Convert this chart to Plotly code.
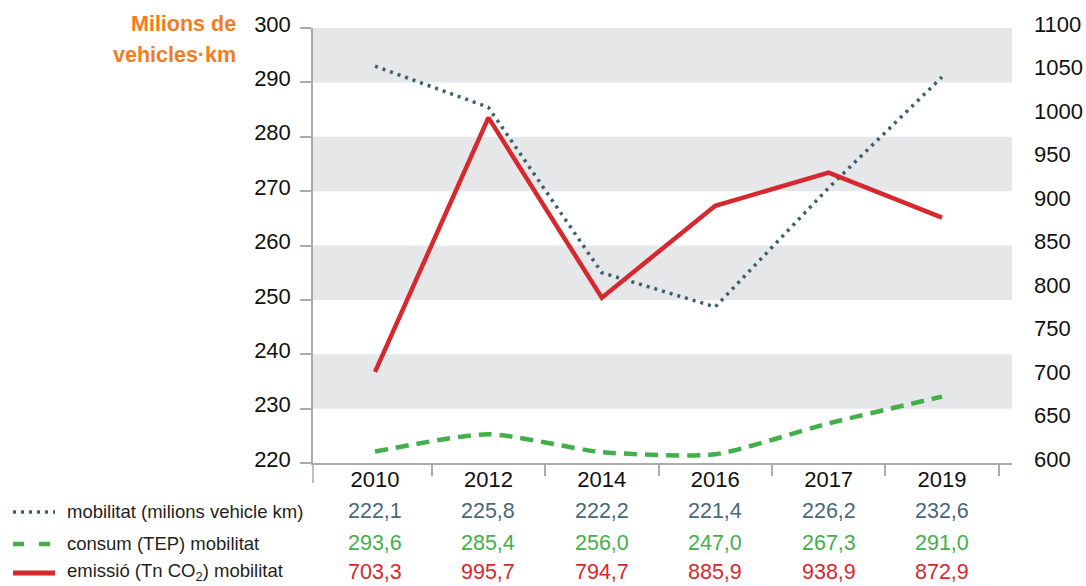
import plotly.graph_objects as go

# ---- data ----
years = ["2010", "2012", "2014", "2016", "2017", "2019"]
# values as drawn in the chart
mobilitat_line = [293.0, 285.4, 255.0, 248.7, 270.6, 291.0]
consum_line = [222.1, 225.3, 222.0, 221.6, 227.3, 232.2]
emissio_line = [704.7, 997.0, 790.0, 895.7, 933.7, 882.0]
# table texts
mobilitat_tab = ["222,1", "225,8", "222,2", "221,4", "226,2", "232,6"]
consum_tab = ["293,6", "285,4", "256,0", "247,0", "267,3", "291,0"]
emissio_tab = ["703,3", "995,7", "794,7", "885,9", "938,9", "872,9"]
row_labels = ["mobilitat (milions vehicle km)", "consum (TEP) mobilitat",
              "emissió (Tn CO<sub>2</sub>) mobilitat"]
title_lines = ["Milions de", "vehicles·km"]
left_ticks = [220, 230, 240, 250, 260, 270, 280, 290, 300]
right_ticks = [600, 650, 700, 750, 800, 850, 900, 950, 1000, 1050, 1100]

SLATE = "#3e5f6e"
SLATE_TXT = "#4a6876"
GREEN = "#43af4a"
RED = "#d6282f"
BAND = "#e6e7e9"
AXIS = "#a9abae"
ORANGE = "#f47c20"
FONT = "Liberation Sans"

W, H = 1086, 586
L, R, T, B = 313, 74, 28, 123
pw, ph = W - L - R, H - T - B


def px_x(p):
    return (p - L) / pw


def px_y(p):
    return (H - B - p) / ph


xs = list(range(len(years)))

fig = go.Figure()
fig.add_trace(go.Scatter(x=xs, y=mobilitat_line, mode="lines",
                         line=dict(color=SLATE, width=3.5, dash="3px,5px"),
                         showlegend=False, hoverinfo="skip"))
fig.add_trace(go.Scatter(x=xs, y=consum_line, mode="lines",
                         line=dict(color=GREEN, width=4.5, dash="13px,8px",
                                   shape="spline", smoothing=0.6),
                         showlegend=False, hoverinfo="skip"))
fig.add_trace(go.Scatter(x=xs, y=emissio_line, mode="lines", yaxis="y2",
                         line=dict(color=RED, width=4.5),
                         showlegend=False, hoverinfo="skip"))

# background bands
shapes = []
for k in range(1, len(left_ticks) - 1, 2):
    shapes.append(dict(type="rect", xref="paper", yref="y", x0=0, x1=1,
                       y0=left_ticks[k], y1=left_ticks[k + 1],
                       fillcolor=BAND, line=dict(width=0), layer="below"))
# y axis line extension below x axis
shapes.append(dict(type="line", xref="paper", yref="paper", x0=0, x1=0,
                   y0=0, y1=px_y(483), line=dict(color=AXIS, width=1.5)))

# legend symbols for table rows
row_y = [511, 543, 572]
sym_styles = [dict(color=SLATE, width=3.5, dash="3px,5px"),
              dict(color=GREEN, width=4.5, dash="11px,15px"),
              dict(color=RED, width=5)]
for yy, st in zip(row_y, sym_styles):
    shapes.append(dict(type="line", xref="paper", yref="paper",
                       x0=px_x(13), x1=px_x(55), y0=px_y(yy + 1), y1=px_y(yy + 1),
                       line=st))

annotations = []
for txt, yy in zip(title_lines, [24, 55]):
    annotations.append(dict(text=txt, xref="paper", yref="paper",
                            x=px_x(238), y=px_y(yy), xanchor="right", yanchor="middle",
                            align="right", showarrow=False,
                            font=dict(family=FONT, size=21.5, color=ORANGE,
                                      weight="bold")))
for lab, yy in zip(row_labels, row_y):
    annotations.append(dict(text=lab, xref="paper", yref="paper",
                            x=px_x(65), y=px_y(yy), xanchor="left", yanchor="middle",
                            showarrow=False,
                            font=dict(family=FONT, size=18.5, color="#231f20")))
for vals, yy, col in zip([mobilitat_tab, consum_tab, emissio_tab], row_y,
                         [SLATE_TXT, GREEN, RED]):
    for xi, v in zip(xs, vals):
        annotations.append(dict(text=v, xref="x", yref="paper", x=xi, y=px_y(yy),
                                xanchor="center", yanchor="middle", showarrow=False,
                                font=dict(family=FONT, size=21.5, color=col)))

fig.update_layout(
    width=W, height=H, autosize=False,
    margin=dict(l=L, r=R, t=T, b=B, pad=0, autoexpand=False),
    paper_bgcolor="white", plot_bgcolor="white",
    showlegend=False,
    font=dict(family=FONT, size=22, color="#111111"),
    shapes=shapes, annotations=annotations,
    xaxis=dict(range=[-0.547, 5.617], tickmode="array", tickvals=xs, ticktext=years,
               ticks="", showgrid=False, zeroline=False, automargin=False,
               showline=True, linecolor=AXIS, linewidth=1.5,
               ticklabelstandoff=-4,
               tickfont=dict(family=FONT, size=22, color="#111111"),
               minor=dict(tickmode="array", tickvals=[x + 0.5 for x in xs],
                          ticks="outside", ticklen=11, tickwidth=1.5,
                          tickcolor=AXIS, showgrid=False)),
    yaxis=dict(range=[left_ticks[0], left_ticks[-1]], tickmode="array",
               tickvals=left_ticks, ticks="outside", ticklen=11, tickwidth=1.5,
               tickcolor=AXIS, showline=True, linecolor=AXIS, linewidth=1.5,
               showgrid=False, zeroline=False, ticklabelstandoff=5,
               ticklabelshift=-4, automargin=False,
               tickfont=dict(family=FONT, size=22, color="#111111")),
    yaxis2=dict(range=[right_ticks[0], right_ticks[-1]], tickmode="array",
                tickvals=right_ticks, overlaying="y", side="right",
                ticks="", showline=False, showgrid=False, zeroline=False,
                ticklabelstandoff=21, ticklabelshift=-4, automargin=False,
                tickfont=dict(family=FONT, size=22, color="#111111")),
)

fig.write_html("out.html", config={"displayModeBar": False},
               post_script="document.body.style.margin='0';")
